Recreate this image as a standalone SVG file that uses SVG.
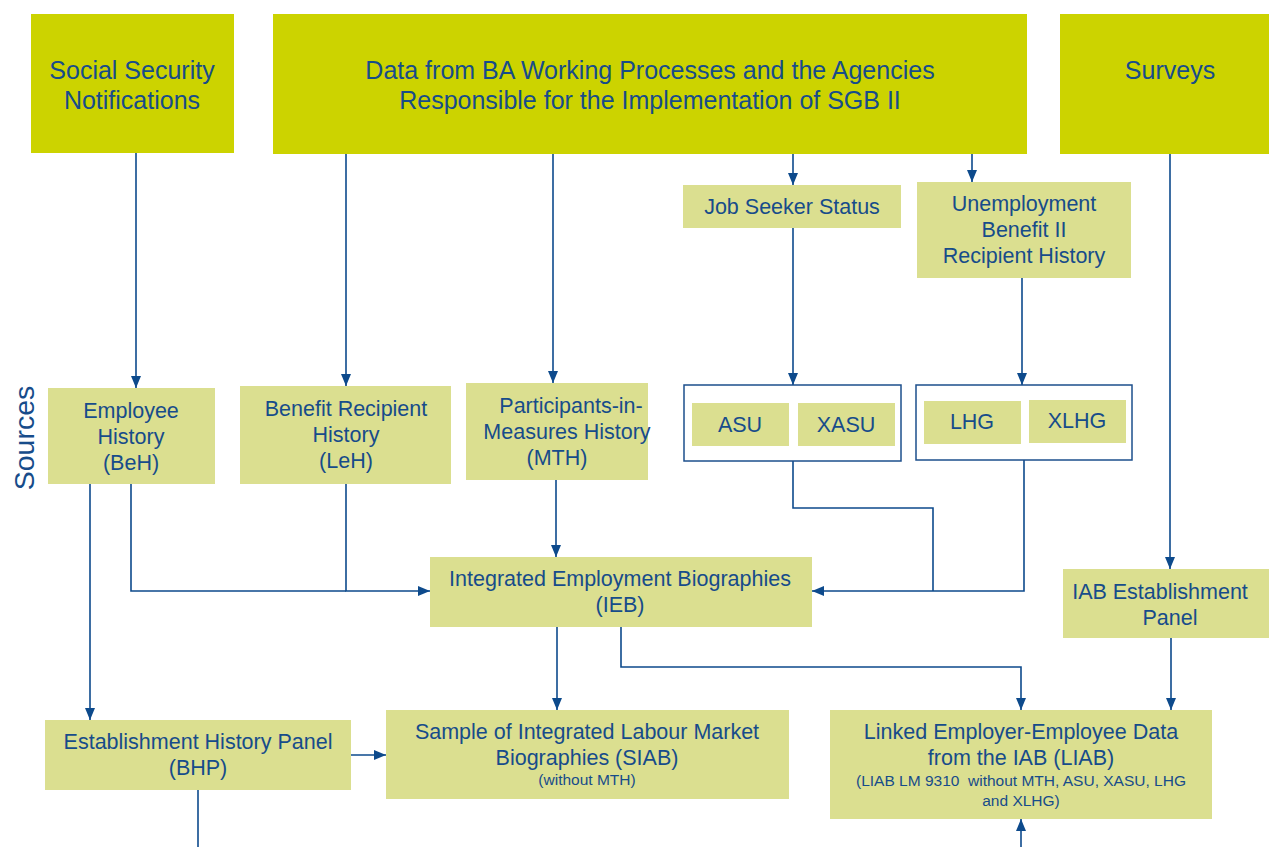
<svg xmlns="http://www.w3.org/2000/svg" width="1269" height="847" viewBox="0 0 1269 847">
<defs>
<marker id="arr" markerUnits="userSpaceOnUse" markerWidth="13" markerHeight="13" viewBox="0 0 13 13" refX="12" refY="6.5" orient="auto">
<path d="M0,1.5 L12,6.5 L0,11.5 Z" fill="#0d4a8c"/>
</marker>
<style>
.top{fill:#ccd300}
.lt{fill:#dbdf90}
.frame{fill:#ffffff;stroke:#1d4f8c;stroke-width:1.5}
.t{font-family:"Liberation Sans",Arial,sans-serif;fill:#174c8a;text-anchor:middle}
.big{font-size:25px}
.mid{font-size:21.5px}
.sm{font-size:15.5px}
.c{fill:none;stroke:#0d4a8c;stroke-width:1.6}
</style>
</defs>
<rect width="1269" height="847" fill="#ffffff"/>
<text class="t" x="0" y="0" font-size="28.5" transform="translate(34,438) rotate(-90)">Sources</text>
<g id="connectors">
<path class="c" d="M136,153 V388" marker-end="url(#arr)"/>
<path class="c" d="M346,154 V386" marker-end="url(#arr)"/>
<path class="c" d="M553,154 V383" marker-end="url(#arr)"/>
<path class="c" d="M793,154 V185" marker-end="url(#arr)"/>
<path class="c" d="M972,154 V182" marker-end="url(#arr)"/>
<path class="c" d="M793,228 V385" marker-end="url(#arr)"/>
<path class="c" d="M1022,278 V385" marker-end="url(#arr)"/>
<path class="c" d="M1170,154 V569" marker-end="url(#arr)"/>
<path class="c" d="M90,484 V720" marker-end="url(#arr)"/>
<path class="c" d="M131,484 V591 H346"/>
<path class="c" d="M346,484 V591 H430" marker-end="url(#arr)"/>
<path class="c" d="M556,480 V557" marker-end="url(#arr)"/>
<path class="c" d="M793,461 V508 H933 V591"/>
<path class="c" d="M1024,460 V591 H812" marker-end="url(#arr)"/>
<path class="c" d="M557,627 V710" marker-end="url(#arr)"/>
<path class="c" d="M621,627 V667 H1021 V710" marker-end="url(#arr)"/>
<path class="c" d="M1171,638 V710" marker-end="url(#arr)"/>
<path class="c" d="M351,755 H386" marker-end="url(#arr)"/>
<path class="c" d="M198,790 V847"/>
<path class="c" d="M1021,847 V819" marker-end="url(#arr)"/>
</g>
<g id="social-security">
<rect class="top" x="31" y="14" width="203" height="139"/>
<text class="t big" x="132" y="79">Social Security</text>
<text class="t big" x="132" y="109">Notifications</text>
</g>
<g id="ba-data">
<rect class="top" x="273" y="14" width="754" height="140"/>
<text class="t big" x="650" y="79">Data from BA Working Processes and the Agencies</text>
<text class="t big" x="650" y="109">Responsible for the Implementation of SGB II</text>
</g>
<g id="surveys">
<rect class="top" x="1060" y="14" width="209" height="140"/>
<text class="t big" x="1170" y="79">Surveys</text>
</g>
<g id="job-seeker">
<rect class="lt" x="683" y="185" width="218" height="43"/>
<text class="t mid" x="792" y="214">Job Seeker Status</text>
</g>
<g id="ub2">
<rect class="lt" x="917" y="182" width="214" height="96"/>
<text class="t mid" x="1024" y="211">Unemployment</text>
<text class="t mid" x="1024" y="237">Benefit II</text>
<text class="t mid" x="1024" y="263">Recipient History</text>
</g>
<g id="beh">
<rect class="lt" x="48" y="388" width="167" height="96"/>
<text class="t mid" x="131" y="418">Employee</text>
<text class="t mid" x="131" y="444">History</text>
<text class="t mid" x="131" y="470">(BeH)</text>
</g>
<g id="leh">
<rect class="lt" x="240" y="386" width="211" height="98"/>
<text class="t mid" x="346" y="416">Benefit Recipient</text>
<text class="t mid" x="346" y="442">History</text>
<text class="t mid" x="346" y="468">(LeH)</text>
</g>
<g id="mth">
<rect class="lt" x="466" y="383" width="182" height="97"/>
<text class="t mid" x="571" y="413">Participants-in-</text>
<text class="t mid" x="567" y="439">Measures History</text>
<text class="t mid" x="557" y="465">(MTH)</text>
</g>
<g id="asu-group">
<rect class="frame" x="684" y="385" width="217" height="76"/>
<rect class="lt" x="692" y="403" width="97" height="43"/>
<text class="t mid" x="740" y="432">ASU</text>
<rect class="lt" x="798" y="403" width="97" height="43"/>
<text class="t mid" x="846" y="432">XASU</text>
</g>
<g id="lhg-group">
<rect class="frame" x="916" y="385" width="216" height="75"/>
<rect class="lt" x="924" y="401" width="97" height="43"/>
<text class="t mid" x="972" y="429">LHG</text>
<rect class="lt" x="1029" y="400" width="97" height="43"/>
<text class="t mid" x="1077" y="428">XLHG</text>
</g>
<g id="ieb">
<rect class="lt" x="430" y="557" width="382" height="70"/>
<text class="t mid" x="620" y="586">Integrated Employment Biographies</text>
<text class="t mid" x="620" y="612">(IEB)</text>
</g>
<g id="iab-panel">
<rect class="lt" x="1063" y="569" width="206" height="69"/>
<text class="t mid" x="1160" y="599">IAB Establishment</text>
<text class="t mid" x="1170" y="625">Panel</text>
</g>
<g id="bhp">
<rect class="lt" x="45" y="720" width="306" height="70"/>
<text class="t mid" x="198" y="749">Establishment History Panel</text>
<text class="t mid" x="198" y="775">(BHP)</text>
</g>
<g id="siab">
<rect class="lt" x="386" y="710" width="403" height="89"/>
<text class="t mid" x="587" y="739">Sample of Integrated Labour Market</text>
<text class="t mid" x="587" y="765">Biographies (SIAB)</text>
<text class="t sm" x="587" y="785">(without MTH)</text>
</g>
<g id="liab">
<rect class="lt" x="830" y="710" width="382" height="109"/>
<text class="t mid" x="1021" y="739">Linked Employer-Employee Data</text>
<text class="t mid" x="1021" y="765">from the IAB (LIAB)</text>
<text class="t sm" x="1021" y="786" xml:space="preserve">(LIAB LM 9310  without MTH, ASU, XASU, LHG</text>
<text class="t sm" x="1021" y="806">and XLHG)</text>
</g>
</svg>
